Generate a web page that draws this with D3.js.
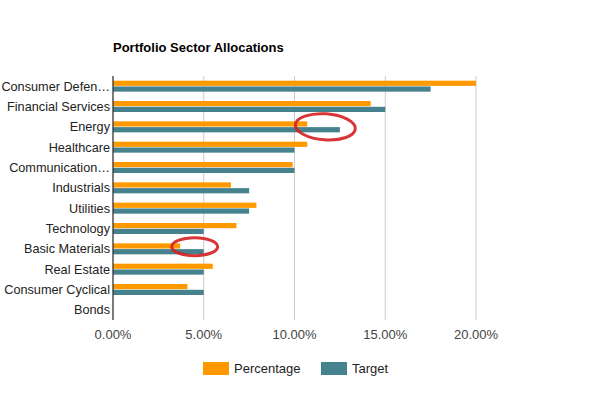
<!DOCTYPE html>
<html>
<head>
<meta charset="utf-8">
<script src="https://cdn.jsdelivr.net/npm/d3@7"></script>
<style>
  body { margin: 0; background: #fff; }
  text { font-family: Arial, "Liberation Sans", sans-serif; }
</style>
</head>
<body>
<div id="chart"></div>
<script>
let categories = ["Consumer Defensive", "Financial Services", "Energy", "Healthcare",
  "Communication Services", "Industrials", "Utilities", "Technology",
  "Basic Materials", "Real Estate", "Consumer Cyclical", "Bonds"];
let percentage = [20.0, 14.2, 10.7, 10.7, 9.9, 6.5, 7.9, 6.8, 3.7, 5.5, 4.1, 0];
let target = [17.5, 15.0, 12.5, 10.0, 10.0, 7.5, 7.5, 5.0, 5.0, 5.0, 5.0, 0];
let seriesNames = ["Percentage", "Target"];
let seriesColors = ["#ff9900", "#46818e"];
let xTicks = [0, 5, 10, 15, 20];
// hand-drawn red marks in the reference, pinned to data points
let marks = [
  { cat: "Energy", value: 11.7, at: 0.5, rx: 30, ry: 13, rot: 4 },
  { cat: "Basic Materials", value: 4.5, at: 0.3, rx: 23, ry: 9, rot: 0 }
];

let W = 590, H = 395;
let margin = { top: 76, right: 114, bottom: 75, left: 113 };
let width = W - margin.left - margin.right,
  height = H - margin.top - margin.bottom;

let svg = d3.select("#chart").append("svg")
  .attr("width", W)
  .attr("height", H);

let g = svg.append("g")
  .attr("transform", `translate(${margin.left},${margin.top})`);

let x = d3.scaleLinear().domain([0, 20]).range([0, width]);
let y0 = d3.scaleBand().domain(categories).range([0, height])
  .paddingInner(0.46).paddingOuter(0.23);
let y1 = d3.scaleBand().domain(seriesNames).range([0, y0.bandwidth()]).paddingInner(0.1);

let rows = categories.map((c, i) => ({ cat: c, vals: [percentage[i], target[i]] }));

// title
svg.append("text")
  .attr("x", margin.left).attr("y", 52)
  .attr("font-size", 13).attr("font-weight", "bold").attr("fill", "#000")
  .text("Portfolio Sector Allocations");

// gridlines
g.selectAll(".grid")
  .data(xTicks.slice(1))
  .join("line")
  .attr("x1", d => x(d)).attr("x2", d => x(d))
  .attr("y1", 0).attr("y2", height)
  .attr("stroke", "#cccccc");

// x tick labels
g.selectAll(".xt")
  .data(xTicks)
  .join("text")
  .attr("x", d => x(d)).attr("y", height + 19)
  .attr("text-anchor", "middle")
  .attr("font-size", 13).attr("fill", "#444")
  .text(d => d3.format(".2f")(d) + "%");

// bars
let row = g.selectAll(".row")
  .data(rows)
  .join("g")
  .attr("transform", d => `translate(0,${y0(d.cat)})`);

row.selectAll("rect")
  .data(d => d.vals.map((v, i) => ({ s: seriesNames[i], v: v, c: seriesColors[i] })))
  .join("rect")
  .attr("x", 0)
  .attr("y", d => y1(d.s))
  .attr("width", d => x(d.v))
  .attr("height", y1.bandwidth())
  .attr("fill", d => d.c);

// category labels, cut with an ellipsis when they don't fit
g.selectAll(".yl")
  .data(categories)
  .join("text")
  .attr("x", -3)
  .attr("y", d => y0(d) + y0.bandwidth() / 2)
  .attr("dy", "0.36em")
  .attr("text-anchor", "end")
  .attr("font-size", 12.7).attr("fill", "#222")
  .text(d => d)
  .each(function(d) {
    let t = d3.select(this), s = d;
    while (this.getComputedTextLength() > 110 && s.length > 1) {
      s = s.slice(0, -1);
      t.text(s.trim() + "\u2026");
    }
  });

// baseline
g.append("line")
  .attr("x1", x(0)).attr("x2", x(0))
  .attr("y1", 0).attr("y2", height)
  .attr("stroke", "#333").attr("stroke-width", 1.3);

// red scribbles
g.selectAll(".mark")
  .data(marks)
  .join("ellipse")
  .attr("transform", d => `translate(${x(d.value)},${y0(d.cat) + y0.bandwidth() * d.at}) rotate(${d.rot})`)
  .attr("rx", d => d.rx)
  .attr("ry", d => d.ry)
  .attr("fill", "none")
  .attr("stroke", "#d42020").attr("stroke-width", 3)
  .attr("opacity", 0.9);

// legend
let legend = svg.append("g")
  .attr("transform", "translate(203,362)");
let li = legend.selectAll("g")
  .data(seriesNames)
  .join("g")
  .attr("transform", (d, i) => `translate(${i * 118},0)`);
li.append("rect")
  .attr("width", 26).attr("height", 13)
  .attr("fill", (d, i) => seriesColors[i]);
li.append("text")
  .attr("x", 31).attr("y", 6.5).attr("dy", "0.36em")
  .attr("font-size", 13).attr("fill", "#222")
  .text(d => d);
</script>
</body>
</html>
